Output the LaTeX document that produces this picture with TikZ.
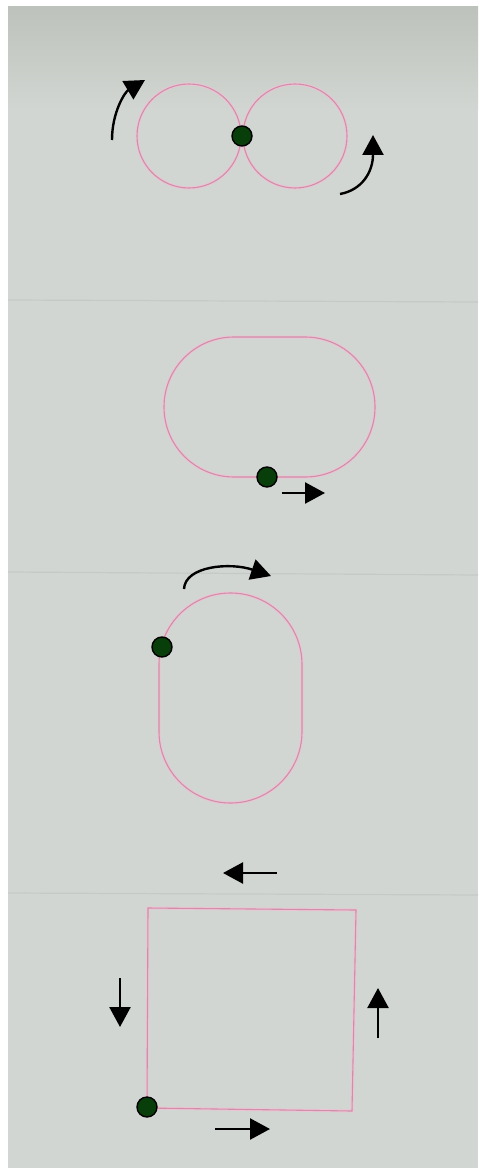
\documentclass[tikz,border=0pt]{standalone}
\usetikzlibrary{arrows.meta}
\definecolor{paper}{RGB}{210,214,210}
\definecolor{paperdark}{RGB}{190,194,188}
\definecolor{crease}{RGB}{198,202,198}
\definecolor{pinkhalo}{RGB}{236,196,212}
\definecolor{pinkcore}{RGB}{208,142,170}
\definecolor{dotgreen}{RGB}{8,62,10}
\tikzset{
  track/.style={draw=pinkcore, line width=1.1pt, preaction={draw=pinkhalo, line width=3pt}},
  dot/.style={circle, fill=dotgreen, draw=black, line width=1.4pt, minimum size=20pt, inner sep=0pt},
  mover/.style={draw=black, line width=2.4pt, -{Triangle[length=20pt,width=21pt]}},
  creaseline/.style={draw=crease, line width=1.2pt}
}
\begin{document}
\begin{tikzpicture}[x=1pt,y=-1pt]
\useasboundingbox (0,0) rectangle (481,1169);
\fill[white] (0,0) rectangle (481,1169);
% paper
\fill[paper] (8,7) rectangle (478,1168);
\shade[top color=paperdark, bottom color=paper] (8,7) rectangle (478,110);
\draw[creaseline] (8,300) -- (478,302);
\draw[creaseline] (8,572) -- (478,575);
\draw[creaseline] (8,893) -- (478,895);

% ---- figure 1: figure eight ----
\draw[track] (189,136) circle[radius=52];
\draw[track] (295,136) circle[radius=52];
\node[dot] (d1) at (242,136) {};
\coordinate (a1s) at (112,140);
\coordinate (a1e) at (145,80);
\draw[mover] (a1s) .. controls (112,112) and (125,92) .. (a1e);
\coordinate (a2s) at (340,194);
\coordinate (a2e) at (373,135);
\draw[mover] (a2s) .. controls (362,190) and (373,172) .. (a2e);

% ---- figure 2: horizontal stadium ----
\draw[track, rounded corners=69.9pt] (164,337) rectangle (375,477);
\node[dot] (d2) at (267,477) {};
\coordinate (a3s) at (282,493);
\coordinate (a3e) at (325,493);
\draw[mover] (a3s) -- (a3e);

% ---- figure 3: vertical stadium ----
\draw[track, rounded corners=71.4pt] (159,593) rectangle (302,803);
\node[dot] (d3) at (162,647) {};
\coordinate (a4s) at (184,589);
\coordinate (a4e) at (271,576);
\draw[mover] (a4s) .. controls (185,566) and (230,562) .. (a4e);

% ---- figure 4: square ----
\coordinate (s1) at (147,1108);
\coordinate (s2) at (148,908);
\coordinate (s3) at (356,910);
\coordinate (s4) at (352,1111);
\draw[track] (s1) -- (s2) -- (s3) -- (s4) -- cycle;
\node[dot] (d4) at (147,1107) {};
\coordinate (a5s) at (277,873);
\coordinate (a5e) at (223,873);
\draw[mover] (a5s) -- (a5e);
\coordinate (a6s) at (120,978);
\coordinate (a6e) at (120,1027);
\draw[mover] (a6s) -- (a6e);
\coordinate (a7s) at (378,1038);
\coordinate (a7e) at (378,988);
\draw[mover] (a7s) -- (a7e);
\coordinate (a8s) at (215,1129);
\coordinate (a8e) at (270,1129);
\draw[mover] (a8s) -- (a8e);
\end{tikzpicture}
\end{document}
